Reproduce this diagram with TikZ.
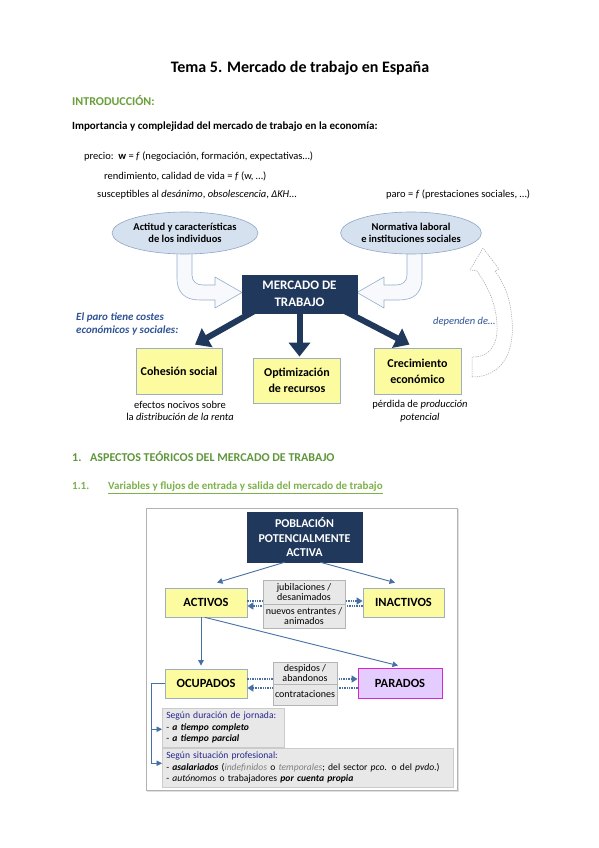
\documentclass[tikz,border=0pt]{standalone}
\usepackage{fontspec}
\setmainfont{Carlito}
\usetikzlibrary{arrows.meta,shapes.geometric,calc,backgrounds}
\definecolor{navy}{RGB}{31,56,92}
\definecolor{yfill}{RGB}{253,251,160}
\definecolor{yborder}{RGB}{156,173,196}
\definecolor{ellfill}{RGB}{214,225,240}
\definecolor{ellborder}{RGB}{143,166,200}
\definecolor{hfill}{RGB}{247,249,252}
\definecolor{hborder}{RGB}{150,172,204}
\definecolor{bluetxt}{RGB}{47,84,150}
\definecolor{flowblue}{RGB}{70,112,163}
\definecolor{lblfill}{RGB}{232,232,232}
\definecolor{lblborder}{RGB}{180,180,180}
\definecolor{pfill}{RGB}{229,204,255}
\definecolor{pborder}{RGB}{210,40,210}
\definecolor{segblue}{RGB}{38,38,140}
\definecolor{introgreen}{RGB}{106,160,58}
\definecolor{secgreen}{RGB}{96,150,60}
\definecolor{subgreen}{RGB}{125,178,75}
\definecolor{softgray}{RGB}{128,128,128}
\pgfdeclarelayer{bottom}
\pgfsetlayers{bottom,background,main}
\begin{document}
\begin{tikzpicture}[x=1pt,y=-1pt,
  txt/.style={inner sep=0pt, anchor=west, font=\fontsize{10.5}{12}\selectfont},
  btxt/.style={inner sep=0pt, anchor=base west},
  ell/.style={ellipse, draw=ellborder, fill=ellfill, line width=0.6pt, minimum width=136pt, minimum height=42pt, inner sep=0pt, align=center, font=\fontsize{10.5}{12.5}\selectfont\bfseries},
  hollow/.style={draw=hborder, fill=hfill, line width=0.6pt, line join=round},
  navybox/.style={draw=navy, fill=navy, text=white, align=center, inner sep=0pt},
  ybox/.style={draw=yborder, fill=yfill, line width=0.8pt, align=center, inner sep=0pt, font=\fontsize{12}{16}\selectfont\bfseries},
  bigarrow/.style={draw=navy, line width=6pt, -{Triangle[length=14pt,width=21pt]}},
  captxt/.style={inner sep=0pt, align=center, font=\fontsize{10.5}{12.5}\selectfont},
  flow/.style={draw=flowblue, line width=0.9pt, -{Triangle[length=5.5pt,width=5.5pt]}},
  dotflow/.style={draw=flowblue, line width=1.6pt, dash pattern=on 1.4pt off 1pt, -{Triangle[length=6pt,width=7pt]}},
  lbl/.style={draw=lblborder, fill=lblfill, line width=0.6pt, align=center, inner sep=0pt, font=\fontsize{10}{10.5}\selectfont},
  gbox/.style={draw=lblborder!70, fill=lblfill, line width=0.5pt, anchor=north west, align=left, inner xsep=4pt, inner ysep=2pt, font=\fontsize{9.6}{11.5}\selectfont}
]
\begin{pgfonlayer}{bottom}
\fill[white] (0,0) rectangle (599,848);
\end{pgfonlayer}
\useasboundingbox (0,0) rectangle (599,848);

% ---------- header texts
\node[font=\fontsize{16}{19}\selectfont\bfseries] (title) at (300,68) {Tema 5. Mercado de trabajo en España};
\node[txt, font=\fontsize{12}{14}\selectfont\bfseries, text=introgreen] (intro) at (72,101) {INTRODUCCIÓN:};
\node[txt, font=\fontsize{11}{13}\selectfont\bfseries] (imp) at (72,127) {Importancia y complejidad del mercado de trabajo en la economía:};
\node[txt] (precio) at (84,157) {precio:\ \ \textbf{w} = \textit{f} (negociación, formación, expectativas…)};
\node[txt] (rend) at (104,176) {rendimiento, calidad de vida = \textit{f} (w, …)};
\node[txt] (susc) at (97,195) {susceptibles al \textit{desánimo}, \textit{obsolescencia}, \textit{ΔKH}…};
\node[txt] (paro) at (386,195) {paro = \textit{f} (prestaciones sociales, …)};

% ---------- hollow block arrows
\path[hollow] (177,248) -- (177,278) .. controls (177,293) and (185,300) .. (200,300) -- (215,300) -- (215,308) -- (242,292.5) -- (215,277) -- (215,285) -- (203,285) .. controls (196,285) and (192,281) .. (192,275) -- (192,248) -- cycle;
\path[hollow] (422,248) -- (422,278) .. controls (422,293) and (414,300) .. (399,300) -- (384,300) -- (384,308) -- (357,292.5) -- (384,277) -- (384,285) -- (396,285) .. controls (403,285) and (407,281) .. (407,275) -- (407,248) -- cycle;

% ---------- dashed curved arrow
\draw[draw=black!35, line width=0.5pt, dash pattern=on 1.3pt off 1pt, line join=round]
  (472,377) .. controls (500,377) and (515,355) .. (512,320)
  .. controls (510,295) and (503,282) .. (495,271) -- (499,269) -- (483,248) -- (470,270) -- (477,271)
  .. controls (485,283) and (496,300) .. (497,325)
  .. controls (498,345) and (490,357) .. (472,357) -- cycle;

% ---------- ellipses
\node[ell] (actitud) at (185,233) {Actitud y características\\de los individuos};
\node[ell, minimum width=138pt] (norma) at (411,233) {Normativa laboral\\e instituciones sociales};

% ---------- mercado
\node[navybox, minimum width=115pt, minimum height=38pt, font=\fontsize{13}{17}\selectfont\bfseries] (merc) at (299.5,294) {MERCADO DE\\TRABAJO};

\node[ybox, minimum width=86pt, minimum height=46pt] (coh) at (179,371) {Cohesión social};
\node[ybox, minimum width=87pt, minimum height=45pt] (opt) at (297,380.5) {Optimización\\de recursos};
\node[ybox, minimum width=87pt, minimum height=46pt] (cre) at (417.5,371) {Crecimiento\\económico};

\begin{scope}[on background layer]
\draw[bigarrow] ($(merc.south west)+(14,-3)$) -- ($(coh.north)+(16,-3)$);
\draw[bigarrow] ($(merc.south)+(0,-3)$) -- ($(merc.south |- opt.north)+(0,-1)$);
\draw[bigarrow] ($(merc.south east)+(-14,-3)$) -- ($(cre.north)+(-8,-3)$);
\end{scope}

\node[captxt] (efe) at (180,411) {efectos nocivos sobre\\la \textit{distribución de la renta}};
\node[captxt] (per) at (420,411) {pérdida de \textit{producción}\\\textit{potencial}};
\node[txt, align=left, text=bluetxt, font=\fontsize{11}{12.5}\selectfont\bfseries\itshape] (elparo) at (76,324) {El paro tiene costes\\económicos y sociales:};
\node[txt, text=bluetxt, font=\fontsize{10.5}{12}\selectfont\itshape] (dep) at (433,322) {dependen de…};

% ---------- section heading
\node[btxt, font=\fontsize{12}{14}\selectfont\bfseries, text=secgreen] (s1n) at (72,461) {1.};
\node[btxt, font=\fontsize{12}{14}\selectfont\bfseries, text=secgreen] (s1) at (90,461) {ASPECTOS TEÓRICOS DEL MERCADO DE TRABAJO};
\node[btxt, font=\fontsize{11}{13}\selectfont\bfseries, text=subgreen] (s11n) at (72,489.5) {1.1.};
\node[btxt, font=\fontsize{11}{13}\selectfont\bfseries, text=subgreen] (s11) at (108,489.5) {\underline{Variables y flujos de entrada y salida del mercado de trabajo}};

% ---------- frame
\draw[black!12, line width=1.2pt] (148,510) rectangle (458,791);
\draw[black!30, fill=white, line width=0.7pt] (146,508) rectangle (457,790);

% ---------- flow diagram
\node[navybox, minimum width=115pt, minimum height=50pt, font=\fontsize{12}{14.5}\selectfont\bfseries] (pob) at (304.5,537) {POBLACIÓN\\POTENCIALMENTE\\ACTIVA};
\node[ybox, minimum width=82pt, minimum height=29pt, font=\fontsize{12.5}{14}\selectfont\bfseries] (act) at (206,602.5) {ACTIVOS};
\node[ybox, minimum width=81pt, minimum height=29pt, font=\fontsize{12.5}{14}\selectfont\bfseries] (inact) at (403.5,602.5) {INACTIVOS};
\node[ybox, minimum width=82pt, minimum height=29pt, font=\fontsize{12.5}{14}\selectfont\bfseries] (ocu) at (206,683.5) {OCUPADOS};
\node[draw=pborder, fill=pfill, line width=0.9pt, inner sep=0pt, minimum width=84pt, minimum height=30pt, font=\fontsize{12.5}{14}\selectfont\bfseries] (par) at (400,683) {PARADOS};

\draw[flow] ($(pob.south west)+(38,0)$) -- ($(act.north)+(11,-5)$);
\draw[flow] ($(pob.south east)+(-42,0)$) -- ($(inact.north)+(-8.5,-5)$);
\draw[flow] ($(act.south)+(-5,0)$) -- ($(ocu.north)+(-5,-3)$);
\draw[flow] ($(act.south)+(-1,0)$) -- ($(par.north)+(-2,-2)$);

\draw[dotflow] ($(act.east)+(0,-1.5)$) -- ($(inact.west)+(0,-1.5)$);
\draw[dotflow] ($(inact.west)+(0,3.5)$) -- ($(act.east)+(0,3.5)$);
\draw[dotflow] ($(ocu.east)+(0,-4.5)$) -- ($(par.west)+(0,-4)$);
\draw[dotflow] ($(par.west)+(0,5)$) -- ($(ocu.east)+(0,4.5)$);

\node[lbl, minimum width=82pt, minimum height=24pt] (lab1) at (304,592) {jubilaciones /\\desanimados};
\node[lbl, minimum width=82pt, minimum height=24pt] (lab2) at (304,616) {nuevos entrantes /\\animados};
\node[lbl, minimum width=64pt, minimum height=22pt] (lab3) at (305,673) {despidos /\\abandonos};
\node[lbl, minimum width=64pt, minimum height=21pt] (lab4) at (305,694.5) {contrataciones};

\node[gbox, text width=114pt, minimum height=39pt] (g1) at (162,708) {{\color{segblue}Según duración de jornada:}\\- \textbf{\textit{a tiempo completo}}\\- \textbf{\textit{a tiempo parcial}}};
\node[gbox, text width=283pt, minimum height=39pt] (g2) at (162,748) {{\color{segblue}Según situación profesional:}\\- \textbf{\textit{asalariados}} ({\color{softgray}\textit{indefinidos}} o {\color{softgray}\textit{temporales}}; del sector \textit{pco.} o del \textit{pvdo.})\\- \textit{autónomos} o trabajadores \textbf{\textit{por cuenta propia}}};

\draw[flow] (ocu.west) -- ++(-13,0) |- ($(g1.west)+(0,1.5)$);
\draw[flow] (ocu.west) -- ++(-13,0) |- ($(g2.west)+(0,-4.5)$);
\end{tikzpicture}
\end{document}
